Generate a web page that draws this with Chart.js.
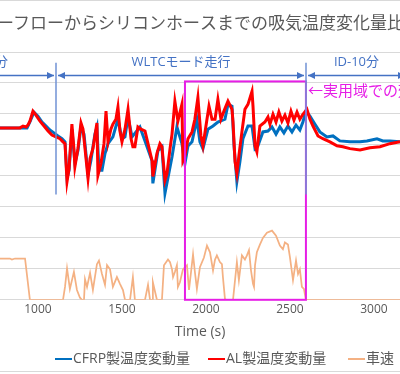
<!DOCTYPE html>
<html>
<head>
<meta charset="utf-8">
<script src="https://cdn.jsdelivr.net/npm/chart.js@4"></script>
<style>
  html, body { margin: 0; padding: 0; background: #fff; overflow: hidden; }
  #wrap { width: 400px; height: 374px; }
</style>
</head>
<body>
<div id="wrap"><canvas id="chart" width="400" height="374"></canvas></div>
<script>
// Eixo do tempo (s)
const timeTicks = [1000, 1500, 2000, 2500, 3000];

// CFRP製温度変動量
const cfrpTime = [774, 893, 935, 952, 976, 1000, 1024, 1048, 1071, 1095, 1119, 1143, 1161, 1173, 1185, 1202, 1220, 1238, 1256, 1274,
  1298, 1315, 1339, 1351, 1363, 1381, 1399, 1417, 1446, 1476, 1500, 1518, 1536, 1560, 1607, 1637, 1679, 1684, 1714, 1738,
  1756, 1798, 1827, 1857, 1875, 1893, 1917, 1946, 1964, 1982, 2012, 2042, 2071, 2113, 2131, 2155, 2167, 2184, 2202, 2220,
  2250, 2274, 2292, 2309, 2339, 2369, 2393, 2417, 2440, 2464, 2488, 2512, 2536, 2559, 2577, 2595, 2619, 2649, 2678, 2720,
  2756, 2797, 2857, 2917, 2958, 3018, 3053, 3095, 3155];
const cfrpTemp = [1.55, 1.55, 1.55, 1.74, 2.06, 1.93, 1.74, 1.61, 1.48, 1.39, 1.29, 1.20, 1.10, -0.08, 0.18, 1.51, 0.40, 0.81, 1.58, 1.35,
  0.05, 0.49, 1.35, 1.58, 0.18, 0.18, 0.72, 1.04, 1.26, 1.83, 1.20, 1.26, 1.90, 1.26, 1.58, 1.13, 0.49, -0.24, 0.81, 0.94,
  -0.56, 0.62, 1.58, 1.04, 0.40, 0.97, 1.10, 1.83, 1.10, 0.88, 1.51, 1.61, 1.74, 1.83, 2.31, 2.25, 0.97, -0.18, 0.46, 1.20,
  1.61, 1.61, 0.88, 0.97, 1.42, 1.45, 1.58, 1.35, 1.58, 1.39, 1.61, 1.42, 1.64, 1.48, 1.74, 2.09, 1.93, 1.67, 1.42, 1.26,
  1.29, 1.13, 1.10, 1.10, 1.13, 1.20, 1.13, 1.13, 1.10];

// AL製温度変動量
const alTime = [774, 833, 893, 911, 929, 940, 952, 970, 988, 1012, 1036, 1060, 1083, 1107, 1131, 1149, 1161, 1173, 1185, 1202,
  1214, 1220, 1238, 1256, 1268, 1280, 1298, 1310, 1327, 1351, 1357, 1375, 1393, 1405, 1417, 1434, 1446, 1464, 1476, 1488,
  1500, 1518, 1536, 1554, 1565, 1577, 1595, 1613, 1637, 1655, 1679, 1684, 1708, 1726, 1738, 1756, 1768, 1786, 1798, 1815,
  1833, 1857, 1863, 1875, 1893, 1917, 1934, 1952, 1970, 1982, 2006, 2018, 2036, 2054, 2071, 2089, 2107, 2131, 2155, 2161,
  2173, 2184, 2196, 2214, 2232, 2250, 2274, 2280, 2292, 2303, 2321, 2351, 2369, 2381, 2399, 2417, 2434, 2452, 2470, 2488,
  2506, 2524, 2542, 2559, 2577, 2601, 2619, 2637, 2667, 2696, 2738, 2780, 2815, 2857, 2917, 2976, 3036, 3095, 3155];
const alTemp = [1.55, 1.55, 1.55, 1.61, 1.58, 1.64, 1.77, 2.09, 1.96, 1.77, 1.61, 1.45, 1.32, 1.26, 1.20, 1.10, 1.04, -0.18, 0.24, 1.67,
  0.88, 0.30, 0.88, 1.71, 1.51, 0.88, -0.08, 0.56, 0.88, 1.71, 0.02, 0.40, 1.04, 2.09, 1.10, 1.51, 1.67, 1.83, 2.22, 1.45,
  1.10, 1.51, 2.15, 1.20, 0.94, 0.94, 1.58, 1.51, 1.45, 1.04, 0.49, -0.02, 0.72, 1.04, 0.94, -0.14, 0.08, 0.88, 1.35, 2.41,
  1.77, 2.31, 0.49, 0.65, 1.20, 1.42, 1.83, 2.53, 1.29, 0.97, 1.83, 2.25, 1.83, 1.83, 2.47, 1.83, 2.09, 2.41, 2.15, 1.74,
  0.46, 0.08, 0.65, 1.42, 2.15, 2.31, 2.73, 2.25, 0.97, 0.78, 1.61, 1.74, 1.90, 1.67, 1.99, 1.74, 2.06, 1.77, 1.96, 1.71,
  2.09, 1.80, 2.06, 1.83, 1.99, 2.15, 1.83, 1.61, 1.29, 1.20, 1.10, 0.97, 0.94, 0.88, 0.84, 0.91, 0.94, 1.04, 1.10];

// 車速 (km/h)
const speedTime = [774, 833, 845, 863, 923, 952, 1149, 1161, 1173, 1190, 1214, 1232, 1250, 1262, 1274, 1280, 1292, 1310, 1327, 1351,
  1363, 1381, 1399, 1411, 1429, 1446, 1470, 1488, 1506, 1518, 1548, 1565, 1577, 1637, 1655, 1667, 1679, 1684, 1708, 1738,
  1750, 1774, 1786, 1798, 1804, 1815, 1827, 1833, 1845, 1863, 1887, 1899, 1923, 1934, 1946, 1964, 1988, 2006, 2024, 2042,
  2054, 2065, 2083, 2095, 2101, 2113, 2119, 2161, 2184, 2196, 2214, 2232, 2244, 2256, 2268, 2280, 2286, 2292, 2303, 2321,
  2339, 2363, 2393, 2417, 2440, 2458, 2470, 2488, 2500, 2518, 2536, 2548, 2559, 2571, 2583, 2595, 3155];
const speedKmh = [80, 80, 78, 80, 80, 0, 0, 25, 61, 21, 54, 19, 4, 0, 0, 40, 25, 52, 19, 69,
  76, 50, 29, 67, 59, 25, 44, 31, 19, 0, 0, 44, 0, 0, 29, 0, 0, 34, 0, 0,
  67, 78, 73, 59, 44, 54, 67, 25, 34, 59, 67, 19, 88, 54, 21, 63, 82, 105, 92, 57,
  78, 86, 73, 69, 44, 2, 0, 0, 73, 38, 86, 78, 86, 96, 57, 31, 25, 67, 92, 107,
  120, 130, 134, 124, 105, 98, 111, 107, 82, 38, 76, 50, 59, 25, 21, 0, 0];

// Fases do ensaio e faixa destacada
const phaseEdges = [1107, 2595, 3195];
const phaseLabels = ['WLTCモード走行', 'ID-10分'];
const practicalRange = [1875, 2595];

const FONT = "'Open Sans', 'Noto Sans CJK JP', sans-serif";
const JP = "'Noto Sans CJK JP', sans-serif";
const BLUE_ANN = '#4472C4';
const MAGENTA = '#E61EE6';
const LEGEND_X = [55, 208, 348];

function toPoints(xs, ys) {
    return xs.map((t, i) => ({ x: t, y: ys[i] }));
}

function arrowHead(ctx, x, y, dir) {
    ctx.beginPath();
    ctx.moveTo(x, y);
    ctx.lineTo(x - dir * 7, y - 3.5);
    ctx.lineTo(x - dir * 7, y + 3.5);
    ctx.closePath();
    ctx.fill();
}

const overlay = {
    id: 'overlay',
    afterDatasetsDraw(chart) {
        const { ctx, scales: { x, y } } = chart;
        ctx.save();

        // Caixa da faixa de uso real
        const bx1 = x.getPixelForValue(practicalRange[0]);
        const bx2 = x.getPixelForValue(practicalRange[1]);
        const by1 = y.getPixelForValue(3.05);
        const by2 = y.getPixelForValue(-4);
        ctx.strokeStyle = MAGENTA;
        ctx.lineWidth = 2;
        ctx.strokeRect(bx1, by1, bx2 - bx1, by2 - by1);

        // Linhas verticais das fases
        const vTop = y.getPixelForValue(3.65);
        const vBot = y.getPixelForValue(-0.6);
        ctx.strokeStyle = 'rgba(112, 146, 212, 0.75)';
        ctx.lineWidth = 2;
        phaseEdges.slice(0, 2).forEach(t => {
            const px = Math.round(x.getPixelForValue(t));
            ctx.beginPath();
            ctx.moveTo(px, vTop);
            ctx.lineTo(px, vBot);
            ctx.stroke();
        });

        // Setas
        const ay = Math.round(y.getPixelForValue(3.27)) + 0.5;
        ctx.strokeStyle = BLUE_ANN;
        ctx.fillStyle = BLUE_ANN;
        ctx.lineWidth = 1.5;
        const edgesPx = [-200].concat(phaseEdges.map(t => Math.round(x.getPixelForValue(t))));
        for (let i = 0; i < edgesPx.length - 1; i++) {
            const a = edgesPx[i] + 2;
            const b = edgesPx[i + 1] - 2;
            ctx.beginPath();
            ctx.moveTo(a, ay);
            ctx.lineTo(b, ay);
            ctx.stroke();
            arrowHead(ctx, a, ay, -1);
            arrowHead(ctx, b, ay, 1);
        }

        // Rótulos das fases
        const ly = y.getPixelForValue(3.68);
        ctx.font = `13px ${FONT}`;
        ctx.textBaseline = 'middle';
        ctx.textAlign = 'center';
        phaseLabels.forEach((label, i) => {
            const cx = (edgesPx[i + 1] + edgesPx[i + 2]) / 2;
            ctx.fillText(label, cx, ly);
        });
        ctx.textAlign = 'right';
        ctx.fillText('分', 8, ly);

        // Texto magenta
        ctx.fillStyle = MAGENTA;
        ctx.font = `15px ${JP}`;
        ctx.textAlign = 'left';
        ctx.fillText('←実用域での効', bx2 + 2, y.getPixelForValue(2.76));
        ctx.restore();
    },
    afterDraw(chart) {
        const { ctx } = chart;
        ctx.save();

        // Bordas da área do gráfico
        ctx.strokeStyle = '#d9d9d9';
        ctx.lineWidth = 1;
        ctx.beginPath();
        ctx.moveTo(0, 0.5); ctx.lineTo(400, 0.5);
        ctx.moveTo(0, 371.5); ctx.lineTo(400, 371.5);
        ctx.stroke();

        // Título (cortado)
        ctx.fillStyle = '#595959';
        ctx.font = `17px ${JP}`;
        ctx.textBaseline = 'middle';
        ctx.textAlign = 'left';
        ctx.fillText('ーフローからシリコンホースまでの吸気温度変化量比', -3, 23);

        // Legenda
        const ly = 359;
        ctx.font = `14px ${FONT}`;
        chart.data.datasets.forEach((ds, i) => {
            const lx = LEGEND_X[i];
            ctx.strokeStyle = ds.borderColor;
            ctx.lineWidth = 2;
            ctx.beginPath();
            ctx.moveTo(lx, ly);
            ctx.lineTo(lx + 17, ly);
            ctx.stroke();
            ctx.fillStyle = '#595959';
            ctx.fillText(ds.label, lx + 18, ly);
        });
        ctx.restore();
    }
};

new Chart(document.getElementById('chart'), {
    type: 'line',
    data: {
        datasets: [
            {
                label: 'CFRP製温度変動量',
                data: toPoints(cfrpTime, cfrpTemp),
                borderColor: '#0070C0',
                borderWidth: 3,
                pointRadius: 0,
                yAxisID: 'y',
                order: 3
            },
            {
                label: 'AL製温度変動量',
                data: toPoints(alTime, alTemp),
                borderColor: '#FF0000',
                borderWidth: 3,
                pointRadius: 0,
                yAxisID: 'y',
                order: 2
            },
            {
                label: '車速',
                data: toPoints(speedTime, speedKmh),
                borderColor: '#F4B183',
                borderWidth: 1.75,
                pointRadius: 0,
                yAxisID: 'y2',
                order: 1
            }
        ]
    },
    options: {
        responsive: false,
        animation: false,
        layout: { padding: { top: 52, bottom: 34, left: 0, right: 0 } },
        plugins: {
            legend: { display: false },
            tooltip: { enabled: false }
        },
        scales: {
            x: {
                type: 'linear',
                min: 774,
                max: 3155,
                afterBuildTicks: scale => {
                    scale.ticks = timeTicks.map(v => ({ value: v }));
                },
                grid: { display: false, drawTicks: false },
                border: { color: '#d9d9d9' },
                ticks: {
                    font: { family: FONT, size: 12 },
                    color: '#595959',
                    padding: 3,
                    maxRotation: 0,
                    callback: v => String(v)
                },
                title: {
                    display: true,
                    text: 'Time (s)',
                    font: { family: FONT, size: 14 },
                    color: '#595959',
                    padding: { top: 3, bottom: 0 }
                }
            },
            y: {
                min: -4,
                max: 4,
                ticks: { display: false, stepSize: 1 },
                grid: { color: '#d9d9d9', drawTicks: false },
                border: { display: false }
            },
            y2: {
                display: false,
                min: 0,
                max: 480
            }
        }
    },
    plugins: [overlay]
});
</script>
</body>
</html>
